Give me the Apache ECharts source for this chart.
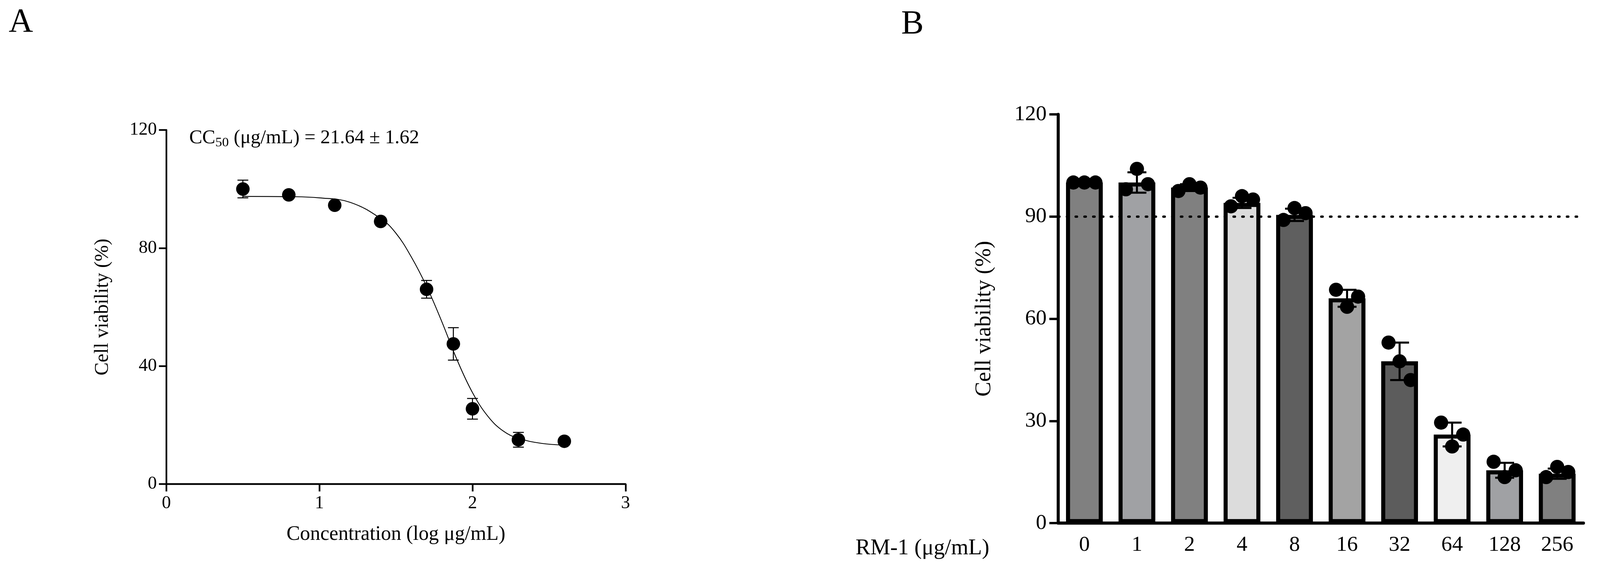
<!DOCTYPE html>
<html>
<head>
<meta charset="utf-8">
<script src="https://cdn.jsdelivr.net/npm/echarts@6/dist/echarts.min.js"></script>
<style>html,body{margin:0;background:#fff;overflow:hidden}#c{width:100vw;height:100vh}</style>
</head>
<body>
<div id="c"></div>
<script>
// panel A: dose response
const logConc = [0.5, 0.8, 1.1, 1.4, 1.7, 1.875, 2.0, 2.3, 2.6]
const viabA = [100, 98, 94.5, 89, 66, 47.5, 25.5, 15, 14.5]
const errA = [3, 1, 1, 1, 3, 5.5, 3.5, 2.5, 1]
// fitted curve
const fitX = [0.5, 0.8, 1.0, 1.2, 1.4, 1.5, 1.6, 1.7, 1.8, 1.9, 2.0, 2.1, 2.2, 2.3, 2.45, 2.6]
const fitY = [97.5, 97.4, 97, 95.5, 90, 85, 77, 67, 55, 42, 31, 23, 18, 15.5, 13.8, 13.2]

// panel B: bars
const doses = ['0', '1', '2', '4', '8', '16', '32', '64', '128', '256']
const viabB = [100, 100, 98.5, 94, 90.5, 66, 47.5, 26, 15.5, 14.5]
const sdB = [0.5, 3, 1, 1.5, 1.8, 2.5, 5.5, 3.5, 2.2, 1.5]
const repB = [
  [100, 100, 100], [98, 104, 99.5], [97.5, 99.5, 98.5], [93, 96, 95], [89, 92.5, 91],
  [68.5, 63.5, 66.5], [53, 47.5, 42], [29.5, 22.5, 26], [18, 13.5, 15.5], [13.5, 16.5, 15]
]
const barColors = ['#808080', '#a0a1a4', '#808080', '#dcdcdc', '#5f5f5f', '#a3a3a3', '#5c5c5c', '#efefef', '#a0a1a4', '#808080']

const font = 'Liberation Serif'
const el = document.getElementById('c')
const sx = el.clientWidth / 4742
const sy = el.clientHeight / 1473
const s = Math.min(sx, sy)
const chart = echarts.init(el)

function errBar(w, lw) {
  return function (params, api) {
    const x = api.value(0)
    const lo = api.coord([x, api.value(1)])
    const hi = api.coord([x, api.value(2)])
    const st = { stroke: '#000', lineWidth: lw }
    return {
      type: 'group',
      children: [
        { type: 'line', shape: { x1: lo[0], y1: lo[1], x2: hi[0], y2: hi[1] }, style: st },
        { type: 'line', shape: { x1: lo[0] - w, y1: lo[1], x2: lo[0] + w, y2: lo[1] }, style: st },
        { type: 'line', shape: { x1: hi[0] - w, y1: hi[1], x2: hi[0] + w, y2: hi[1] }, style: st }
      ]
    }
  }
}

const axisFont = { fontFamily: font, color: '#000' }
const big = { fontFamily: font, fontSize: 100 * s, fontWeight: 'normal', color: '#000' }

chart.setOption({
  animation: false,
  textStyle: { fontFamily: font },
  title: [
    { text: 'A', left: 20 * sx, top: 10 * sy, textStyle: big },
    { text: 'B', left: 2665 * sx, top: 15 * sy, textStyle: big },
    { text: 'CC{s|50} (μg/mL) = 21.64 ± 1.62', left: 555 * sx, top: 318 * sy,
      textStyle: { fontFamily: font, fontSize: 58 * s, fontWeight: 'normal', color: '#000',
        rich: { s: { fontSize: 40 * s, verticalAlign: 'bottom', padding: [30 * s, 0, 0, 0], fontFamily: font } } } },
    { text: 'RM-1 (μg/mL)', left: 2530 * sx, top: 1372 * sy, textStyle: { ...big, fontSize: 66 * s } }
  ],
  grid: [
    { left: 493 * sx, top: 333 * sy, width: 1361 * sx, height: 907 * sy },
    { left: 3136 * sx, top: 293 * sy, right: 49 * sx, height: 1047 * sy }
  ],
  xAxis: [
    { gridIndex: 0, type: 'value', min: 0, max: 3, interval: 1,
      name: 'Concentration (log μg/mL)', nameLocation: 'middle', nameGap: 120 * s,
      nameTextStyle: { ...axisFont, fontSize: 60 * s },
      axisLine: { lineStyle: { color: '#000', width: 5 * s } },
      axisTick: { length: 22 * s, lineStyle: { color: '#000', width: 5 * s } },
      axisLabel: { ...axisFont, fontSize: 54 * s, margin: 30 * s },
      splitLine: { show: false } },
    { gridIndex: 1, type: 'category', data: doses,
      axisLine: { lineStyle: { color: '#000', width: 9 * s } },
      axisTick: { alignWithLabel: true, length: 22 * s, lineStyle: { color: '#000', width: 7 * s } },
      axisLabel: { ...axisFont, fontSize: 64 * s, margin: 34 * s } }
  ],
  yAxis: [
    { gridIndex: 0, type: 'value', min: 0, max: 120, interval: 40,
      name: 'Cell viability (%)', nameLocation: 'middle', nameGap: 160 * s,
      nameTextStyle: { ...axisFont, fontSize: 58 * s },
      axisLine: { show: true, lineStyle: { color: '#000', width: 5 * s } },
      axisTick: { show: true, length: 22 * s, lineStyle: { color: '#000', width: 5 * s } },
      axisLabel: { ...axisFont, fontSize: 54 * s, margin: 28 * s },
      splitLine: { show: false } },
    { gridIndex: 1, type: 'value', min: 0, max: 120, interval: 30,
      name: 'Cell viability (%)', nameLocation: 'middle', nameGap: 185 * s,
      nameTextStyle: { ...axisFont, fontSize: 66 * s },
      axisLine: { show: true, lineStyle: { color: '#000', width: 9 * s } },
      axisTick: { show: true, length: 26 * s, lineStyle: { color: '#000', width: 7 * s } },
      axisLabel: { ...axisFont, fontSize: 64 * s, margin: 34 * s },
      splitLine: { show: false } }
  ],
  series: [
    { type: 'line', xAxisIndex: 0, yAxisIndex: 0, smooth: 0.4, showSymbol: false,
      lineStyle: { color: '#000', width: 2.5 * s },
      data: fitX.map((x, i) => [x, fitY[i]]) },
    { type: 'custom', xAxisIndex: 0, yAxisIndex: 0, renderItem: errBar(16 * s, 3 * s), z: 3,
      data: logConc.map((x, i) => [x, viabA[i] - errA[i], viabA[i] + errA[i]]) },
    { type: 'scatter', xAxisIndex: 0, yAxisIndex: 0, symbolSize: 40 * s, z: 4,
      itemStyle: { color: '#000', opacity: 1 },
      data: logConc.map((x, i) => [x, viabA[i]]) },
    { type: 'bar', xAxisIndex: 1, yAxisIndex: 1, barWidth: '70%',
      data: viabB.map((v, i) => ({ value: v, itemStyle: { color: barColors[i], borderColor: '#000', borderWidth: 12 * s } })),
      markLine: { silent: true, symbol: 'none', label: { show: false },
        lineStyle: { color: '#000', type: [4 * s, 22 * s], width: 7 * s, cap: 'round' },
        data: [{ yAxis: 90 }] } },
    { type: 'custom', xAxisIndex: 1, yAxisIndex: 1, renderItem: errBar(28 * s, 6 * s), z: 3,
      data: viabB.map((v, i) => [i, v - sdB[i], v + sdB[i]]) },
    { type: 'custom', xAxisIndex: 1, yAxisIndex: 1, z: 4,
      renderItem: function (params, api) {
        const i = api.value(0)
        const bw = api.size([1, 0])[0] * 0.7
        const offs = [-0.3, 0, 0.3]
        const kids = []
        for (let k = 0; k < 3; k++) {
          const p = api.coord([i, api.value(k + 1)])
          kids.push({ type: 'circle', shape: { cx: p[0] + offs[k] * bw, cy: p[1], r: 21 * s }, style: { fill: '#000' } })
        }
        return { type: 'group', children: kids }
      },
      data: repB.map((r, i) => [i, r[0], r[1], r[2]]) }
  ]
})
</script>
</body>
</html>
